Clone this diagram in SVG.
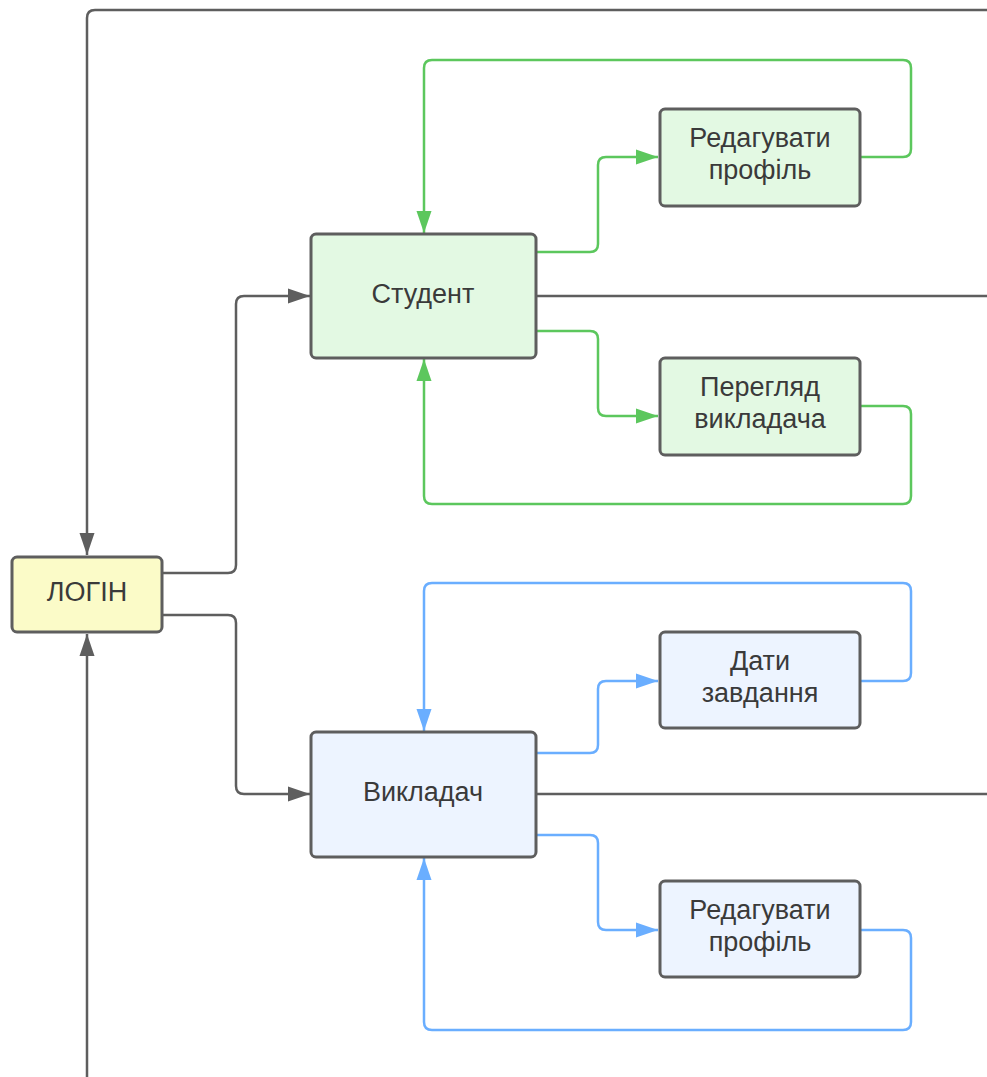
<svg xmlns="http://www.w3.org/2000/svg" width="987" height="1077" viewBox="0 0 987 1077">
  <style>
    .box { stroke: #5e5e5e; stroke-width: 3; }
    .login { fill: #fbfbc8; }
    .stud { fill: #e3f9e3; }
    .teach { fill: #edf4ff; }
    .lbl { font-family: "Liberation Sans", Arial, sans-serif; font-size: 27px; fill: #3a3a3a; text-anchor: middle; dominant-baseline: central; }
    .gray { fill: none; stroke: #5e5e5e; stroke-width: 2.5; }
    .green { fill: none; stroke: #5cc75d; stroke-width: 2.5; }
    .blue { fill: none; stroke: #6aaeff; stroke-width: 2.5; }
  </style>
  <defs>
    <marker id="ah-gray" markerUnits="userSpaceOnUse" markerWidth="24" markerHeight="16" refX="23" refY="8" orient="auto">
      <path d="M1,0.5 L23,8 L1,15.5 Z" fill="#5e5e5e"/>
    </marker>
    <marker id="ah-green" markerUnits="userSpaceOnUse" markerWidth="24" markerHeight="16" refX="23" refY="8" orient="auto">
      <path d="M1,0.5 L23,8 L1,15.5 Z" fill="#5cc75d"/>
    </marker>
    <marker id="ah-blue" markerUnits="userSpaceOnUse" markerWidth="24" markerHeight="16" refX="23" refY="8" orient="auto">
      <path d="M1,0.5 L23,8 L1,15.5 Z" fill="#6aaeff"/>
    </marker>
  </defs>

  <g id="connectors">
    <!-- gray routes -->
    <path class="gray" d="M987,10 L95,10 Q87,10 87,18 L87,555" marker-end="url(#ah-gray)"/>
    <path class="gray" d="M87,1077 L87,634" marker-end="url(#ah-gray)"/>
    <path class="gray" d="M162,573 L228,573 Q236,573 236,565 L236,304 Q236,296 244,296 L310,296" marker-end="url(#ah-gray)"/>
    <path class="gray" d="M162,615 L228,615 Q236,615 236,623 L236,786 Q236,794 244,794 L310,794" marker-end="url(#ah-gray)"/>
    <path class="gray" d="M537,296 L987,296"/>
    <path class="gray" d="M537,794 L987,794"/>

    <!-- student loops -->
    <path class="green" d="M537,252 L590,252 Q598,252 598,244 L598,165 Q598,157 606,157 L658,157" marker-end="url(#ah-green)"/>
    <path class="green" d="M537,331 L590,331 Q598,331 598,339 L598,408 Q598,416 606,416 L658,416" marker-end="url(#ah-green)"/>
    <path class="green" d="M861,157 L903,157 Q911,157 911,149 L911,68 Q911,60 903,60 L432,60 Q424,60 424,68 L424,233" marker-end="url(#ah-green)"/>
    <path class="green" d="M861,406 L903,406 Q911,406 911,414 L911,496 Q911,504 903,504 L432,504 Q424,504 424,496 L424,359" marker-end="url(#ah-green)"/>

    <!-- teacher loops -->
    <path class="blue" d="M537,753 L590,753 Q598,753 598,745 L598,689 Q598,681 606,681 L658,681" marker-end="url(#ah-blue)"/>
    <path class="blue" d="M537,835 L590,835 Q598,835 598,843 L598,922 Q598,930 606,930 L658,930" marker-end="url(#ah-blue)"/>
    <path class="blue" d="M861,681 L903,681 Q911,681 911,673 L911,591 Q911,583 903,583 L432,583 Q424,583 424,591 L424,731" marker-end="url(#ah-blue)"/>
    <path class="blue" d="M861,930 L903,930 Q911,930 911,938 L911,1022 Q911,1030 903,1030 L432,1030 Q424,1030 424,1022 L424,858" marker-end="url(#ah-blue)"/>
  </g>

  <g id="login">
    <rect class="box login" x="12" y="557" width="150" height="75" rx="5"/>
    <text class="lbl" x="87" y="592">ЛОГІН</text>
  </g>

  <g id="student">
    <rect class="box stud" x="311" y="234" width="225" height="124" rx="5"/>
    <text class="lbl" x="423" y="294">Студент</text>
  </g>
  <g id="student-edit">
    <rect class="box stud" x="660" y="109" width="200" height="97" rx="5"/>
    <text class="lbl" x="760" y="138">Редагувати</text>
    <text class="lbl" x="760" y="170">профіль</text>
  </g>
  <g id="student-view">
    <rect class="box stud" x="660" y="358" width="200" height="97" rx="5"/>
    <text class="lbl" x="760" y="387">Перегляд</text>
    <text class="lbl" x="760" y="419">викладача</text>
  </g>

  <g id="teacher">
    <rect class="box teach" x="311" y="732" width="225" height="125" rx="5"/>
    <text class="lbl" x="423" y="792">Викладач</text>
  </g>
  <g id="teacher-task">
    <rect class="box teach" x="660" y="632" width="200" height="96" rx="5"/>
    <text class="lbl" x="760" y="661">Дати</text>
    <text class="lbl" x="760" y="693">завдання</text>
  </g>
  <g id="teacher-edit">
    <rect class="box teach" x="660" y="881" width="200" height="96" rx="5"/>
    <text class="lbl" x="760" y="910">Редагувати</text>
    <text class="lbl" x="760" y="942">профіль</text>
  </g>
</svg>
